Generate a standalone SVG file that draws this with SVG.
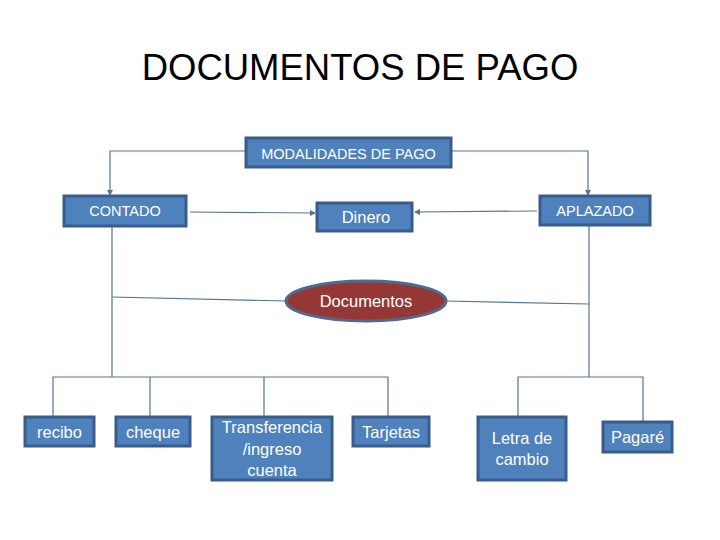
<svg xmlns="http://www.w3.org/2000/svg" width="720" height="540" viewBox="0 0 720 540">
<defs>
<style>
.box{fill:#4F81BD;stroke:#385D8A;stroke-width:3}
.lbl{font-family:"Liberation Sans",Arial,sans-serif;fill:#FFFFFF;text-anchor:middle}
.s14{font-size:14.5px}
.s15{font-size:16.5px}
.ln{fill:none;stroke:#557595;stroke-width:1.2}
</style>
<marker id="ah" viewBox="0 0 6 6" refX="5" refY="3" markerWidth="6" markerHeight="6" orient="auto" markerUnits="userSpaceOnUse">
<path d="M0,0 L6,3 L0,6 z" fill="#557595"/>
</marker>
</defs>
<rect width="720" height="540" fill="#FFFFFF"/>
<text x="360" y="80" font-family="'Liberation Sans',Arial,sans-serif" font-size="36.5" text-anchor="middle" fill="#000000">DOCUMENTOS DE PAGO</text>
<g id="connectors">
<path class="ln" d="M246,151 H110 V195" marker-end="url(#ah)"/>
<path class="ln" d="M451,151 H588 V195" marker-end="url(#ah)"/>
<path class="ln" d="M190,212 L315,213" marker-end="url(#ah)"/>
<path class="ln" d="M537,211 L415,212" marker-end="url(#ah)"/>
<path class="ln" d="M112,226 V377"/>
<path class="ln" d="M589,225 V377"/>
<path class="ln" d="M112,297 L287,301"/>
<path class="ln" d="M445,301 L589,304"/>
<path class="ln" d="M53,417 V377 H388 V417"/>
<path class="ln" d="M150,417 V377"/>
<path class="ln" d="M264,417 V377"/>
<path class="ln" d="M518,417 V377 H643 V422"/>
</g>
<g id="modalidades"><rect class="box" x="246" y="138" width="205" height="29"/><text class="lbl s14" x="348.5" y="159">MODALIDADES DE PAGO</text></g>
<g id="contado"><rect class="box" x="64" y="196" width="122" height="30"/><text class="lbl s14" x="125" y="216">CONTADO</text></g>
<g id="dinero"><rect class="box" x="317" y="203" width="95" height="28"/><text class="lbl s15" x="366" y="223">Dinero</text></g>
<g id="aplazado"><rect class="box" x="540" y="196" width="110" height="29"/><text class="lbl s14" x="595" y="216">APLAZADO</text></g>
<g id="documentos"><ellipse cx="366" cy="301" rx="80" ry="20" fill="#953735" stroke="#4F6A8F" stroke-width="3"/><text class="lbl s15" x="366" y="307" fill="#F8ECEC">Documentos</text></g>
<g id="recibo"><rect class="box" x="25" y="417" width="69" height="29"/><text class="lbl s15" x="59.5" y="438">recibo</text></g>
<g id="cheque"><rect class="box" x="116" y="417" width="74" height="29"/><text class="lbl s15" x="153" y="438">cheque</text></g>
<g id="transferencia"><rect class="box" x="212" y="417" width="120" height="63"/><text class="lbl s15" x="272" y="433">Transferencia</text><text class="lbl s15" x="272" y="455">/ingreso</text><text class="lbl s15" x="272" y="476">cuenta</text></g>
<g id="tarjetas"><rect class="box" x="353" y="417" width="76" height="29"/><text class="lbl s15" x="391" y="438">Tarjetas</text></g>
<g id="letra"><rect class="box" x="478" y="417" width="88" height="63"/><text class="lbl s15" x="522" y="444">Letra de</text><text class="lbl s15" x="522" y="465">cambio</text></g>
<g id="pagare"><rect class="box" x="603" y="422" width="69" height="30"/><text class="lbl s15" x="637.5" y="443">Pagaré</text></g>
</svg>
